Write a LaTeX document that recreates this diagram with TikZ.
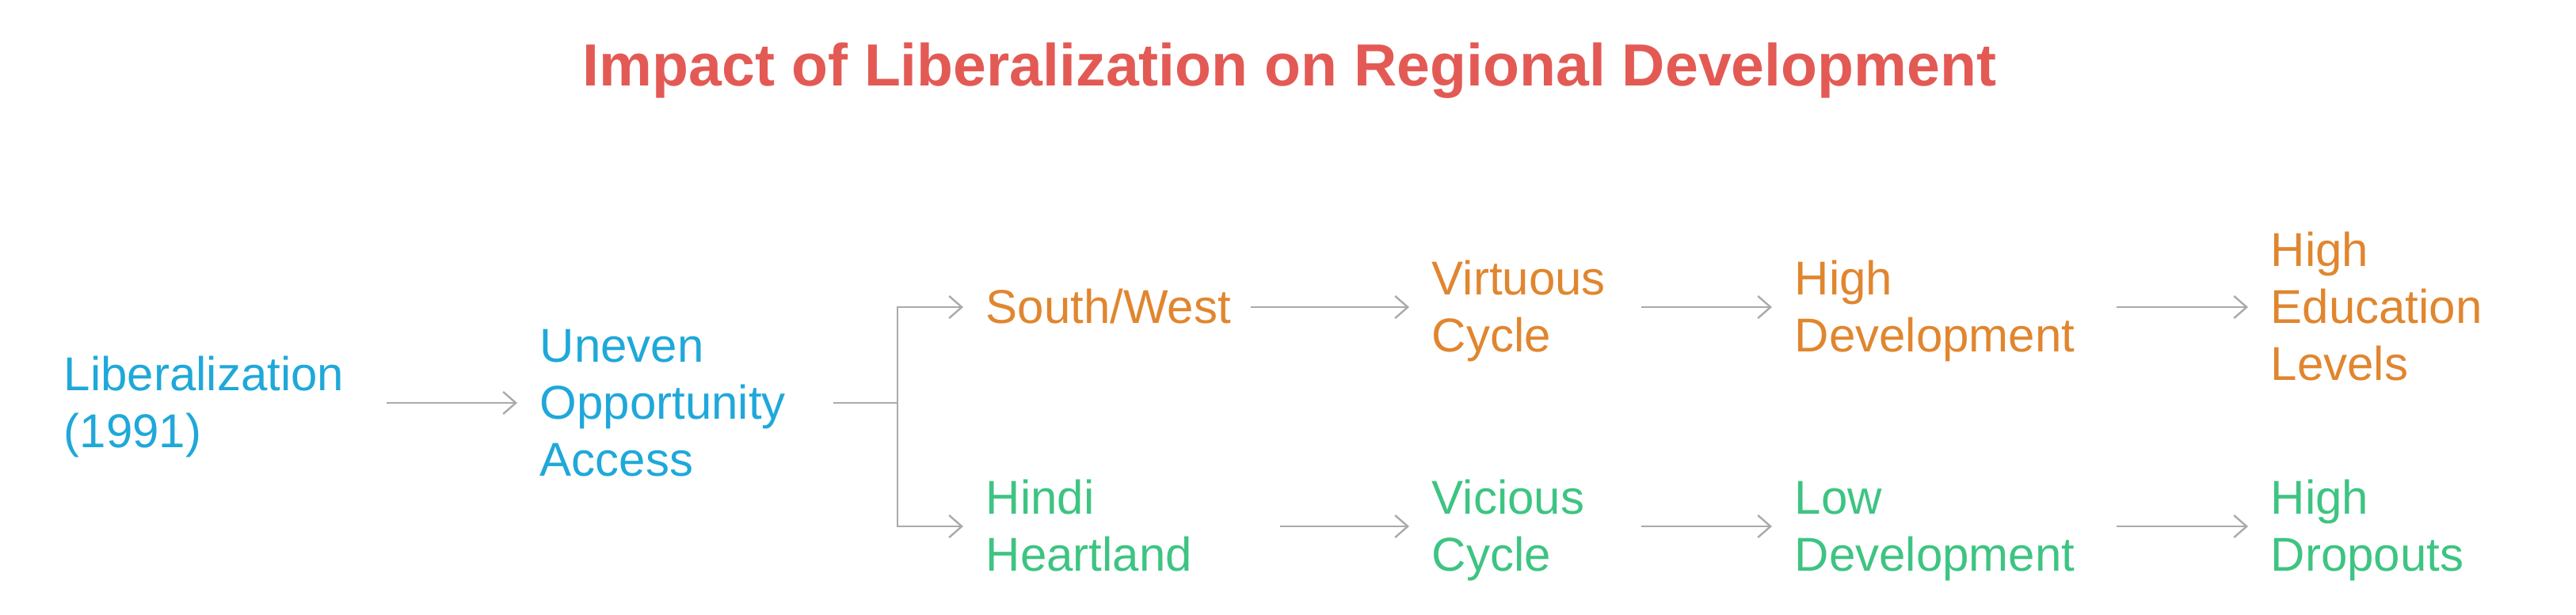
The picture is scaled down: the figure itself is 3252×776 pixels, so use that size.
\documentclass[tikz,border=0pt]{standalone}
\usepackage{fontspec}
\setmainfont{Liberation Sans}
\usetikzlibrary{arrows.meta}

\definecolor{titlered}{HTML}{E35A55}
\definecolor{libblue}{HTML}{1FA8D9}
\definecolor{gainorange}{HTML}{E0862F}
\definecolor{lossgreen}{HTML}{3EC482}
\definecolor{flowgray}{HTML}{AAAAAA}

\newcommand{\rowstrut}{\rule[-3.5pt]{0pt}{17pt}}

\begin{document}
\begin{tikzpicture}[x=0.25pt, y=-0.25pt,
		    stage/.style={anchor=west, inner sep=0pt, align=left,
			   font=\fontsize{15}{18}\selectfont,
			   execute at begin node=\rowstrut,
			   execute at end node=\rowstrut},
		    link/.style={draw=flowgray, line width=0.6pt},
		    flow/.style={link, -{Straight Barb[length=4pt,width=7pt]},
			   shorten >=7pt}]
 \path[use as bounding box] (0,0) rectangle (3252,776);
 \node[font=\fontsize{18.8}{23}\selectfont\bfseries, text=titlered, anchor=base]
      (title) at (1628,108) {Impact of Liberalization on Regional Development};

 \node[stage, text=libblue, text width=101.5pt] (lib) at (80,509) {Liberalization\\(1991)};
 \node[stage, text=libblue, text width=92.25pt] (opp) at (681,509) {Uneven\\Opportunity\\Access};
 \coordinate (fork) at (1133,509);

 % upper branch
 \node[stage, text=gainorange, text width=83.25pt] (south) at (1244,388) {South/West};
 \node[stage, text=gainorange, text width=65.75pt] (virtuous) at (1807,388) {Virtuous\\Cycle};
 \node[stage, text=gainorange, text width=101.25pt] (highdev) at (2265,388) {High\\Development};
 \node[stage, text=gainorange, text width=65pt] (highedu) at (2866,388) {High\\Education\\Levels};

 % lower branch
 \node[stage, text=lossgreen, text width=92.5pt] (hindi) at (1244,665) {Hindi\\Heartland};
 \node[stage, text=lossgreen, text width=65.75pt] (vicious) at (1807,665) {Vicious\\Cycle};
 \node[stage, text=lossgreen, text width=101.25pt] (lowdev) at (2265,665) {Low\\Development};
 \node[stage, text=lossgreen, text width=65pt] (dropouts) at (2866,665) {High\\Dropouts};

 \draw[flow] (lib.east) -- (opp.west);
 \draw[link] (opp.east) -- (fork);
 \draw[flow] (fork) |- (south.west);
 \draw[flow] (fork) |- (hindi.west);
 \draw[flow] (south.east) -- (virtuous.west);
 \draw[flow] (virtuous.east) -- (highdev.west);
 \draw[flow] (highdev.east) -- (highedu.west);
 \draw[flow] (hindi.east) -- (vicious.west);
 \draw[flow] (vicious.east) -- (lowdev.west);
 \draw[flow] (lowdev.east) -- (dropouts.west);
\end{tikzpicture}
\end{document}
